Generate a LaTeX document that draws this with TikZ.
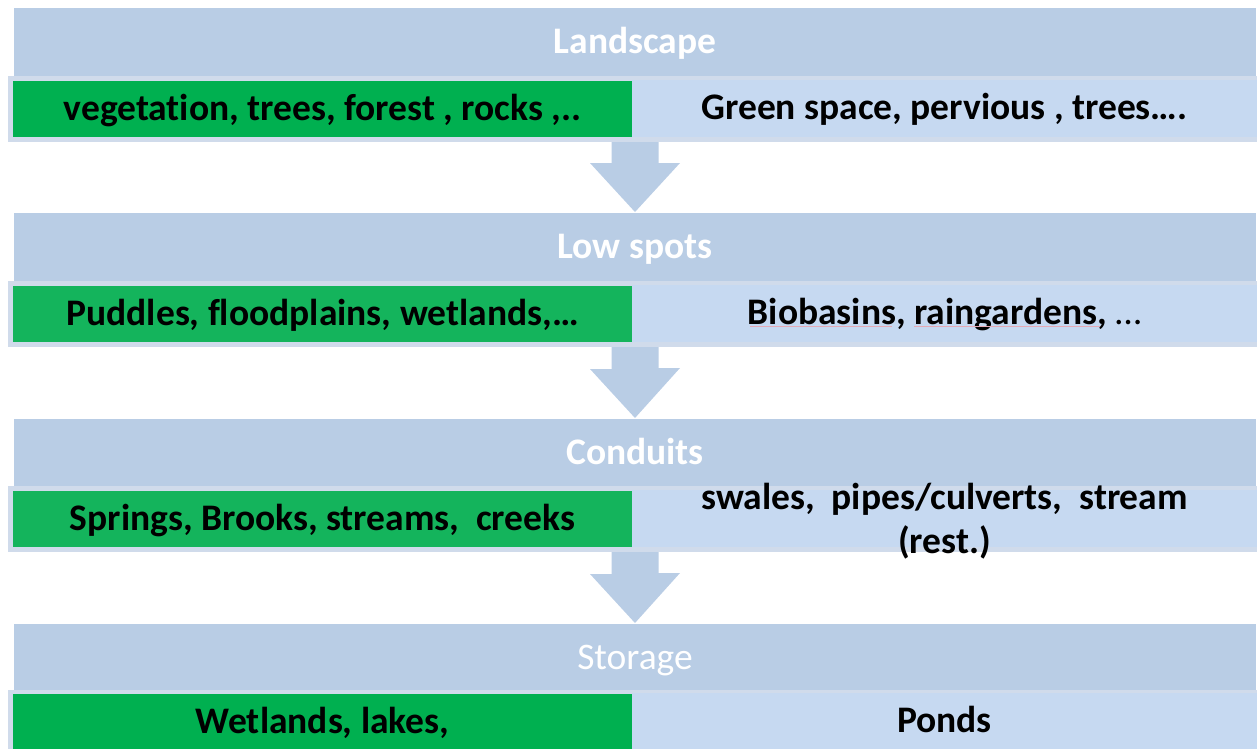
\documentclass[tikz,border=0pt]{standalone}
\usepackage{fontspec}
\setmainfont{Carlito}[Ligatures=NoCommon]
\usetikzlibrary{calc}
\definecolor{hdr}{HTML}{B9CDE5}
\definecolor{cellblue}{HTML}{C6D9F1}
\definecolor{rowedge}{HTML}{D0DBEB}
\definecolor{greenA}{HTML}{00B050}
\definecolor{greenB}{HTML}{14B45C}
\definecolor{arrowc}{HTML}{B9CDE5}
\definecolor{spellred}{HTML}{E6AAB5}
\newcommand\bandarrow[2]{%
  \fill[arrowc] ($(#1.south -| #2.north)+(-23.5,0)$) -- ++(47,0) -- ++(0,21) -- ++(21.5,0)
    -- ($(#2.north)+(0,-1)$) -- ++(-45,-49) -- ++(21.5,0) -- cycle;}
\begin{document}
\begin{tikzpicture}[x=1pt,y=-1pt,
  every node/.style={inner sep=0pt,outer sep=0pt,anchor=north west},
  big/.style={font=\fontsize{37.5}{44}\selectfont\bfseries},
  tb/.style={text height=28pt,text depth=6pt},
  hdrbox/.style={fill=hdr,minimum width=1242pt,minimum height=68pt,big,tb,text=white},
  rowbox/.style={fill=rowedge,minimum width=1249pt,minimum height=66pt},
  greenbox/.style={fill=#1,minimum width=619pt,minimum height=56pt,big,tb,text=black},
  bluebox/.style={fill=cellblue,minimum width=625pt,minimum height=57pt,big,tb,text=black},
  txt/.style={big,text=black,anchor=center,align=center},
  spell/.style={draw=spellred,line width=0.7pt}]
\useasboundingbox (0,0) rectangle (1257,748);
% band 1
\node[hdrbox] (h1) at (14,8) {Landscape};
\node[rowbox] (r1) at (8,76) {};
\node[greenbox=greenA] (g1) at (13,81) {vegetation, trees, forest , rocks ,..};
\node[bluebox] (b1) at (632,80) {Green space, pervious , trees….};
% band 2
\node[hdrbox] (h2) at (14,213) {Low spots};
\node[rowbox] (r2) at (8,281) {};
\node[greenbox=greenB] (g2) at (13,286) {Puddles, floodplains, wetlands,…};
\node[bluebox] (b2) at (632,285) {Biobasins, raingardens, {\mdseries …}};
\draw[spell] ($(b2.north west)+(118,41)$) -- ++(142,0);
\draw[spell] ($(b2.north west)+(282,41)$) -- ++(186,0);
% band 3
\node[hdrbox] (h3) at (14,419) {Conduits};
\node[rowbox] (r3) at (8,486) {};
\node[greenbox=greenB] (g3) at (13,491) {Springs, Brooks, streams,\ \ creeks};
\node[bluebox] (b3) at (632,490) {};
\node[txt] (t3) at ($(b3.center)+(0,3)$) {swales,\ \ pipes/culverts,\ \ stream\\(rest.)};
% band 4
\node[hdrbox,font=\fontsize{37.5}{44}\selectfont\mdseries] (h4) at (14,624) {Storage};
\node[rowbox] (r4) at (8,690) {};
\node[greenbox=greenA] (g4) at (13,694) {Wetlands, lakes,};
\node[bluebox] (b4) at (632,693) {Ponds};
% arrows
\bandarrow{r1}{h2}
\bandarrow{r2}{h3}
\bandarrow{r3}{h4}
\end{tikzpicture}
\end{document}
